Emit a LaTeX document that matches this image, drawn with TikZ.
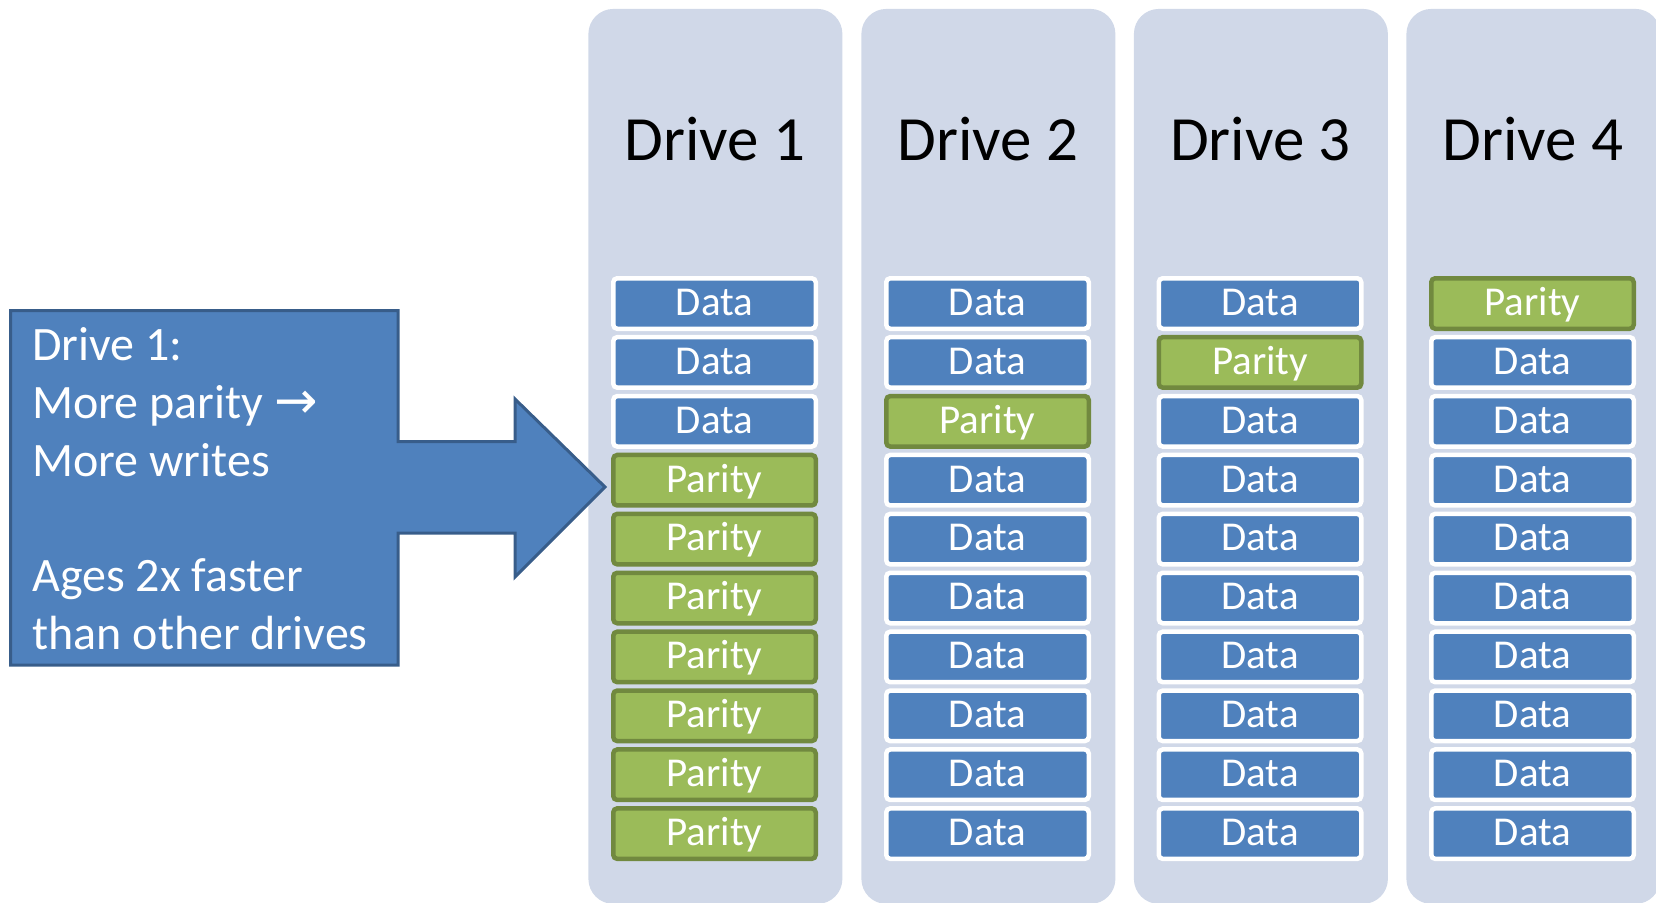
\documentclass[tikz,border=0pt]{standalone}
\usepackage{fontspec}
\setmainfont{Carlito}
\newfontfamily\arrowfont{DejaVu Sans}
\definecolor{colbg}{RGB}{208,216,232}
\definecolor{datablue}{RGB}{79,129,189}
\definecolor{parityfill}{RGB}{155,187,89}
\definecolor{parityline}{RGB}{113,137,63}
\definecolor{calloutline}{RGB}{56,93,138}
\tikzset{
  drivecol/.style={fill=colbg, rounded corners=12.5pt, minimum width=127pt, minimum height=447.5pt, inner sep=0pt, anchor=north west},
  drivetitle/.style={anchor=base, font=\fontsize{31.5}{36}\selectfont, text=black},
  blockbase/.style={rounded corners=2pt, line width=2.25pt, minimum width=101.25pt, minimum height=25.25pt, inner sep=0pt, text=white, font=\fontsize{20.5}{24}\selectfont, text height=11.8pt, text depth=0pt},
  D/.style={blockbase, fill=datablue, draw=white},
  P/.style={blockbase, fill=parityfill, draw=parityline},
  callout/.style={fill=datablue, draw=calloutline, line width=1.5pt, line join=miter},
  notetext/.style={anchor=north west, align=left, text=white, inner sep=0pt, font=\fontsize{24}{28.85}\selectfont}
}
\begin{document}
\begin{tikzpicture}[x=0.5pt,y=-0.5pt]
\clip (0,0) rectangle (1656,902);
\useasboundingbox (0,0) rectangle (1656,902);
% drive columns
\foreach \i/\xo/\types in {1/588/{D,D,D,P,P,P,P,P,P,P},2/861/{D,D,P,D,D,D,D,D,D,D},3/1133.5/{D,P,D,D,D,D,D,D,D,D},4/1406/{P,D,D,D,D,D,D,D,D,D}}{
  \node[drivecol] (col\i) at (\xo,8.5) {};
  \node[drivetitle] (title\i) at (\xo+127,160) {Drive \i};
  \foreach \t [count=\r] in \types {
    \if\t D
      \node[D] (b\i r\r) at (\xo+126.5,{303.5+58.9*(\r-1)}) {Data};
    \else
      \node[P] (b\i r\r) at (\xo+126.5,{303.5+58.9*(\r-1)}) {Parity};
    \fi
  }
}
% callout arrow
\draw[callout] (10.6,310.5) -- (398,310.5) -- (398,441.5) -- (515,441.5) -- (515,399) -- (605,487) -- (515,577) -- (515,533) -- (398,533) -- (398,665) -- (10.6,665) -- cycle;
\node[notetext] (note) at (32,327.5) {Drive 1:\\More parity {\arrowfont\fontsize{26}{28.85}\selectfont →}\\More writes\\[28.85pt]Ages 2x faster\\than other drives};
\end{tikzpicture}
\end{document}
